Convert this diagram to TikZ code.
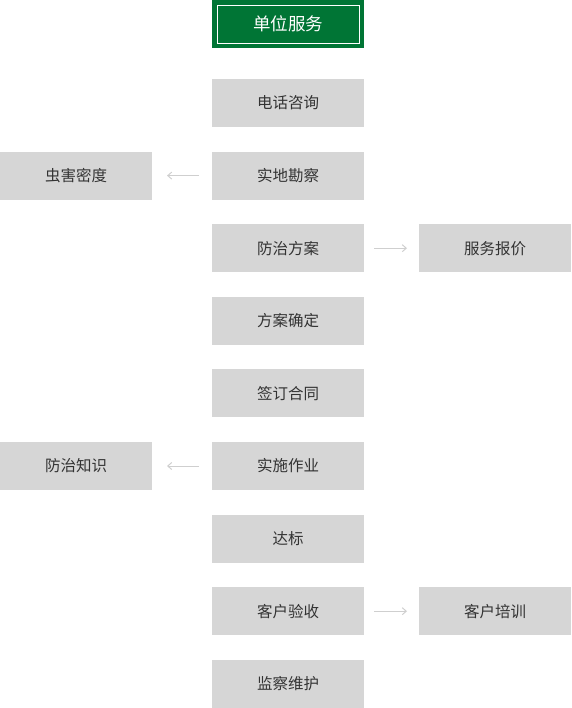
\documentclass[tikz,border=0pt]{standalone}
\usepackage{fontspec}
\setmainfont{Noto Sans CJK SC}
\usepackage{xcolor}
\usetikzlibrary{arrows.meta,positioning}
\definecolor{hdgreen}{HTML}{007535}
\definecolor{boxgray}{HTML}{D6D6D6}
\definecolor{txtgray}{HTML}{333333}
\definecolor{arrgray}{HTML}{CFCFCF}

\begin{document}
\begin{tikzpicture}[x=1pt,y=1pt,font=\fontsize{15.5}{18}\selectfont,
  box/.style={fill=boxgray,text=txtgray,minimum height=48pt,minimum width=152pt,inner sep=0pt,outer sep=0pt,align=center},
  hbox/.style={box,fill=hdgreen,text=white,font=\fontsize{17.5}{20}\selectfont},
  arr/.style={-{Straight Barb[length=4pt,width=7pt]},line width=1pt,draw=arrgray},
  node distance=24.6pt]
\useasboundingbox (0,0) rectangle (571,-708);
\node[hbox] (bxDw) at (288,-24) {单位服务};
\draw[white,line width=0.8pt] ([shift={(5pt,-5pt)}]bxDw.north west) rectangle ([shift={(-5pt,5pt)}]bxDw.south east);
% main column
\node[box,below=31pt of bxDw] (bxDh) {电话咨询};
\node[box,below=of bxDh] (bxKc) {实地勘察};
\node[box,below=of bxKc] (bxFa) {防治方案};
\node[box,below=of bxFa] (bxQd) {方案确定};
\node[box,below=of bxQd] (bxHt) {签订合同};
\node[box,below=of bxHt] (bxSs) {实施作业};
\node[box,below=of bxSs] (bxDb) {达标};
\node[box,below=of bxDb] (bxYs) {客户验收};
\node[box,below=of bxYs] (bxWh) {监察维护};
% side boxes
\node[box,left=60pt of bxKc] (bxMd) {虫害密度};
\node[box,right=55pt of bxFa] (bxBj) {服务报价};
\node[box,left=60pt of bxSs] (bxZs) {防治知识};
\node[box,right=55pt of bxYs] (bxPx) {客户培训};
\draw[arr] ([xshift=-13pt]bxKc.west) -- ([xshift=15pt]bxMd.east);
\draw[arr] ([xshift=10pt]bxFa.east) -- ([xshift=-12pt]bxBj.west);
\draw[arr] ([xshift=-13pt]bxSs.west) -- ([xshift=15pt]bxZs.east);
\draw[arr] ([xshift=10pt]bxYs.east) -- ([xshift=-12pt]bxPx.west);
\end{tikzpicture}
\end{document}
